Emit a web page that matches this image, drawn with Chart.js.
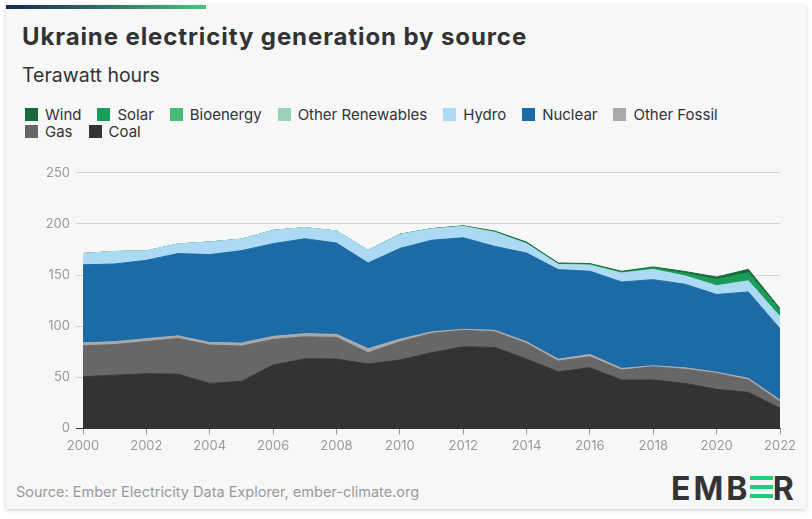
<!DOCTYPE html>
<html>
<head>
<meta charset="utf-8">
<script src="https://cdn.jsdelivr.net/npm/chart.js@4.4.1/dist/chart.umd.min.js"></script>
<style>
  html, body { margin: 0; padding: 0; background: #fff; width: 812px; height: 519px; overflow: hidden; font-family: Inter, sans-serif; color: #333; }
  #card { position: absolute; left: 6px; top: 5px; width: 800px; height: 504px; background: #f7f7f7; box-shadow: 0 1px 4px rgba(0,0,0,0.2); }
  #topbar { position: absolute; left: 6px; top: 5px; width: 200px; height: 4px; background: linear-gradient(90deg, #1b2555, #47c27b); }
  .txt { position: absolute; white-space: nowrap; line-height: 1; }
  #title { left: 22px; top: 25px; font-size: 24px; font-weight: 700; letter-spacing: 0.9px; }
  #subtitle { left: 22px; top: 66px; font-size: 19.5px; }
  #legend { position: absolute; left: 25px; top: 108px; width: 760px; display: flex; flex-wrap: wrap; row-gap: 4px; font-size: 15px; line-height: 13px; }
  .item { display: flex; align-items: center; margin-right: 16px; height: 13px; }
  .box { width: 13px; height: 13px; margin-right: 7px; }
  #source { left: 16px; top: 485px; font-size: 14.5px; color: #9a9a9a; }
  #logo { left: 671px; top: 473px; font-size: 32px; font-weight: 700; letter-spacing: 3px; color: #333; }
  #logo .g { color: transparent; background: linear-gradient(#f7f7f7 0 7px, #1fce78 7px 11px, #f7f7f7 11px 16px, #1fce78 16px 20px, #f7f7f7 20px 25px, #1fce78 25px 29px, #f7f7f7 29px); }
  #wrap { position: absolute; left: 20px; top: 159px; width: 780px; height: 299px; }
</style>
</head>
<body>
<div id="card"></div>
<div id="topbar"></div>
<div class="txt" id="title">Ukraine electricity generation by source</div>
<div class="txt" id="subtitle">Terawatt hours</div>
<div id="legend"></div>
<div id="wrap"><canvas id="chart"></canvas></div>
<div class="txt" id="source">Source: Ember Electricity Data Explorer, ember-climate.org</div>
<div class="txt" id="logo">EMB<span class="g">E</span>R</div>
<script>
//-----------------------------------------------------------------------------
// Data (TWh)
const years = [2000, 2001, 2002, 2003, 2004, 2005, 2006, 2007, 2008, 2009, 2010, 2011,
               2012, 2013, 2014, 2015, 2016, 2017, 2018, 2019, 2020, 2021, 2022];
const coal        = [50.5, 52.0, 53.5, 53.0, 44.0, 46.0, 62.0, 68.0, 67.8, 63.0, 66.8, 74.0, 79.8, 79.2, 67.8, 55.4, 59.3, 47.3, 47.3, 44.0, 38.2, 35.3, 19.7];
const gas         = [30.3, 30.0, 31.5, 35.0, 37.5, 34.5, 25.0, 21.6, 21.2, 11.0, 17.9, 18.9, 16.2, 15.2, 15.2, 10.4, 10.7,  9.7, 13.0, 13.8, 15.6, 12.0,  6.3];
const otherFossil = [ 2.9,  2.8,  2.8,  2.5,  2.5,  3.0,  3.0,  3.0,  3.0,  4.0,  2.6,  1.5,  1.0,  1.5,  1.7,  1.9,  2.4,  1.7,  1.0,  1.5,  1.2,  1.7,  1.8];
const nuclear     = [76.3, 76.0, 76.6, 80.5, 86.0, 90.3, 90.7, 92.9, 89.3, 83.8, 88.7, 89.6, 89.5, 82.1, 86.8, 87.6, 81.3, 84.5, 84.2, 81.7, 76.0, 84.5, 69.7];
const hydro       = [11.0, 12.2,  9.1,  9.3, 12.3, 11.2, 12.9, 10.8, 11.7, 12.2, 13.6, 11.0, 10.9, 13.5,  8.9,  5.0,  5.8,  8.5,  9.8,  8.0,  8.4, 10.6, 11.5];
const otherRenew  = [ 0,    0,    0,    0,    0,    0,    0,    0,    0,    0,    0,    0,    0,    0,    0,    0,    0,    0,    0,    0,    0,    0,    0  ];
const bioenergy   = [ 0,    0,    0,    0,    0,    0,    0,    0,    0,    0,    0.2,  0.2,  0.2,  0.3,  0.2,  0.1,  0.3,  0.3,  0.3,  0.3,  0.4,  0.6,  0.5];
const solar       = [ 0,    0,    0,    0,    0,    0,    0,    0,    0,    0,    0,    0.03, 0.3,  0.6,  0.5,  0.4,  0.5,  0.7,  1.1,  2.4,  5.9,  7.5,  5.8];
const wind        = [ 0,    0,    0,    0,    0,    0,    0,    0,    0,    0,    0.05, 0.1,  0.3,  0.6,  1.1,  1.0,  0.9,  1.0,  1.2,  1.8,  2.3,  3.4,  2.0];

const yTicks = [0, 50, 100, 150, 200, 250];
const xTicks = [2000, 2002, 2004, 2006, 2008, 2010, 2012, 2014, 2016, 2018, 2020, 2022];

// bottom to top
const series = [
  { label: 'Coal',             data: coal,        color: '#333333' },
  { label: 'Gas',              data: gas,         color: '#676767' },
  { label: 'Other Fossil',     data: otherFossil, color: '#a9a9a9' },
  { label: 'Nuclear',          data: nuclear,     color: '#1c6ba7' },
  { label: 'Hydro',            data: hydro,       color: '#acdaf4' },
  { label: 'Other Renewables', data: otherRenew,  color: '#96d2b3' },
  { label: 'Bioenergy',        data: bioenergy,   color: '#47bb78' },
  { label: 'Solar',            data: solar,       color: '#1b9b5a' },
  { label: 'Wind',             data: wind,        color: '#176a3a' }
];

//-----------------------------------------------------------------------------
// Legend (top item first)
const legend = document.getElementById('legend');
series.slice().reverse().forEach(function(s) {
  legend.innerHTML += `<div class="item"><div class="box" style="background:${s.color}"></div><span>${s.label}</span></div>`;
});

//-----------------------------------------------------------------------------
// Chart
const datasets = series.map(function(s, i) {
  return {
    label: s.label,
    data: s.data.map(function(v, j) { return { x: years[j], y: v }; }),
    backgroundColor: s.color,
    borderColor: s.color,
    borderWidth: 1,
    pointRadius: 0,
    tension: 0,
    fill: i === 0 ? 'origin' : '-1'
  };
});

new Chart(document.getElementById('chart'), {
  type: 'line',
  data: { datasets: datasets },
  options: {
    responsive: true,
    maintainAspectRatio: false,
    animation: false,
    layout: { padding: { top: 10, right: 18, left: 0, bottom: 0 } },
    plugins: { legend: { display: false }, tooltip: { enabled: false } },
    scales: {
      x: {
        type: 'linear',
        min: 2000, max: 2022,
        afterBuildTicks: function(s) { s.ticks = xTicks.map(function(v) { return { value: v }; }); },
        ticks: { color: '#999', font: { family: 'Inter', size: 13 }, padding: 4, maxRotation: 0,
                 callback: function(v) { return String(v); } },
        grid: { drawOnChartArea: false, drawTicks: true, tickLength: 6, color: '#999' },
        border: { display: true, color: '#333' }
      },
      y: {
        stacked: true,
        min: 0, max: 250,
        afterBuildTicks: function(s) { s.ticks = yTicks.map(function(v) { return { value: v }; }); },
        afterFit: function(s) { s.width = 63; },
        ticks: { color: '#999', font: { family: 'Inter', size: 13 }, padding: 6 },
        grid: { tickLength: 7, lineWidth: 1,
                color: function(ctx) { return ctx.tick && ctx.tick.value === 0 ? '#333' : '#d4d4d4'; } },
        border: { display: false }
      }
    }
  }
});
</script>
</body>
</html>
